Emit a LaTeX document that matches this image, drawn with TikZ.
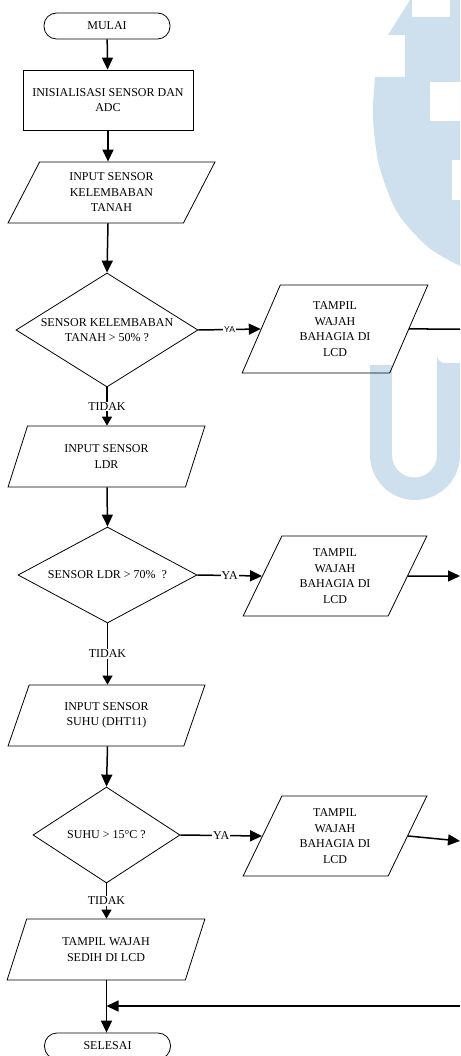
\documentclass[tikz,border=0pt]{standalone}
\usepackage{fontspec}
\setmainfont{Liberation Serif}
\newfontfamily\yasans{Liberation Sans}
\usetikzlibrary{shapes.geometric,arrows.meta}
\definecolor{wm}{RGB}{206,223,238}
\begin{document}
\begin{tikzpicture}[x=1pt,y=-1pt,
  every node/.style={font=\fontsize{12}{15.5}\selectfont},
  shp/.style={draw, line width=0.8pt, inner sep=0pt, align=center},
  term/.style={shp, rectangle, rounded corners=12.5pt, minimum width=126pt, minimum height=26pt},
  proc/.style={shp, rectangle, minimum width=170pt, minimum height=60pt},
  io/.style={shp, trapezium, trapezium stretches=true, trapezium left angle=#1, trapezium right angle=180-#1},
  dec/.style={shp, diamond},
  conn/.style={line width=1.5pt, -{Triangle[length=12pt,width=11pt]}},
  sconn/.style={line width=1.5pt, -{Triangle[length=9pt,width=10pt]}},
  plain/.style={line width=1.5pt},
  lbl/.style={fill=white, inner sep=1pt}
]
\useasboundingbox (0,0) rectangle (460,1056);
% watermark
\fill[wm] (410,0) -- (388,35) -- (405,35) -- (405,77) -- (375,77)
  -- plot[smooth] coordinates {(375,77) (373,117) (379,165) (397,212) (428,247) (460,266)}
  -- (460,0) -- cycle;
\fill[white] (412,0) rectangle (450,17);
\fill[white] (430,82) rectangle (460,121);
\fill[white] (452,160) rectangle (460,200);
\fill[wm] (370,365) -- (370,455) arc[start angle=180,end angle=0,radius=45] -- (460,363) -- (445,363)
  arc[start angle=90,end angle=180,radius=8] -- (437,455) arc[start angle=0,end angle=180,radius=22.5] -- (392,365) -- cycle;
% nodes
\node[term] (mulai) at (107,26) {MULAI};
\node[proc] (init) at (108,100) {INISIALISASI SENSOR DAN\\ADC};
\node[io=64.6, minimum width=207pt, minimum height=61pt] (in1) at (111.5,192.5) {INPUT SENSOR\\KELEMBABAN\\TANAH};
\node[dec, minimum width=182pt, minimum height=114pt,
  label={[align=center]center:SENSOR KELEMBABAN\\TANAH > 50\% ?}] (d1) at (107,330) {};
\node[io=65.6, minimum width=186pt, minimum height=88pt] (p1) at (335,329) {TAMPIL\\WAJAH\\BAHAGIA DI\\LCD};
\node[io=66.1, minimum width=197pt, minimum height=61pt] (in2) at (106.5,456.5) {INPUT SENSOR\\LDR};
\node[dec, minimum width=179pt, minimum height=96pt,
  label={[align=center]center:SENSOR LDR > 70\% \ ?}] (d2) at (107.5,575) {};
\node[io=64.6, minimum width=184pt, minimum height=80pt] (p2) at (335,576) {TAMPIL\\WAJAH\\BAHAGIA DI\\LCD};
\node[io=66.1, minimum width=197pt, minimum height=61pt] (in3) at (106.5,715.5) {INPUT SENSOR\\SUHU (DHT11)};
\node[dec, minimum width=147pt, minimum height=96pt,
  label={[align=center]center:SUHU > 15°C ?}] (d3) at (106.5,835) {};
\node[io=64.6, minimum width=184pt, minimum height=80pt] (p3) at (335,836) {TAMPIL\\WAJAH\\BAHAGIA DI\\LCD};
\node[io=65.4, minimum width=198pt, minimum height=61pt] (in4) at (106,949.5) {TAMPIL WAJAH\\SEDIH DI LCD};
\node[term] (selesai) at (107.5,1046) {SELESAI};
\coordinate (r1) at (460,329);
\coordinate (r2) at (460,576);
\coordinate (r3) at (460,841);
\coordinate (r4) at (460,1006);
% connectors
\draw[conn] (mulai) -- (init);
\draw[conn] (init.south) -- (init.south |- in1.north);
\draw[conn] (init.south |- in1.south) -- (d1.north);
\draw[conn] (d1.east) -- node[lbl, font=\yasans\fontsize{8.5}{10}\selectfont]{YA} (p1.west);
\draw[plain] (p1.east) -- (r1);
\draw[sconn] (d1.south) -- node[lbl]{TIDAK} (d1.south |- in2.north);
\draw[conn] (d1.south |- in2.south) -- (d2.north);
\draw[conn] (d2.east) -- node[lbl]{YA} (p2.west);
\draw[conn] (p2.east) -- (r2);
\draw[sconn] (d2.south) -- node[lbl]{TIDAK} (d2.south |- in3.north);
\draw[conn] (d2.south |- in3.south) -- (d3.north);
\draw[conn] (d3.east) -- node[lbl]{YA} (p3.west);
\draw[conn] (p3.east) -- (r3);
\draw[sconn] (d3.south) -- node[lbl]{TIDAK} (d3.south |- in4.north);
\draw[conn] (d3.south |- in4.south) -- (d3.south |- selesai.north);
\draw[conn] (r4) -- (d3.south |- r4);
\end{tikzpicture}
\end{document}
